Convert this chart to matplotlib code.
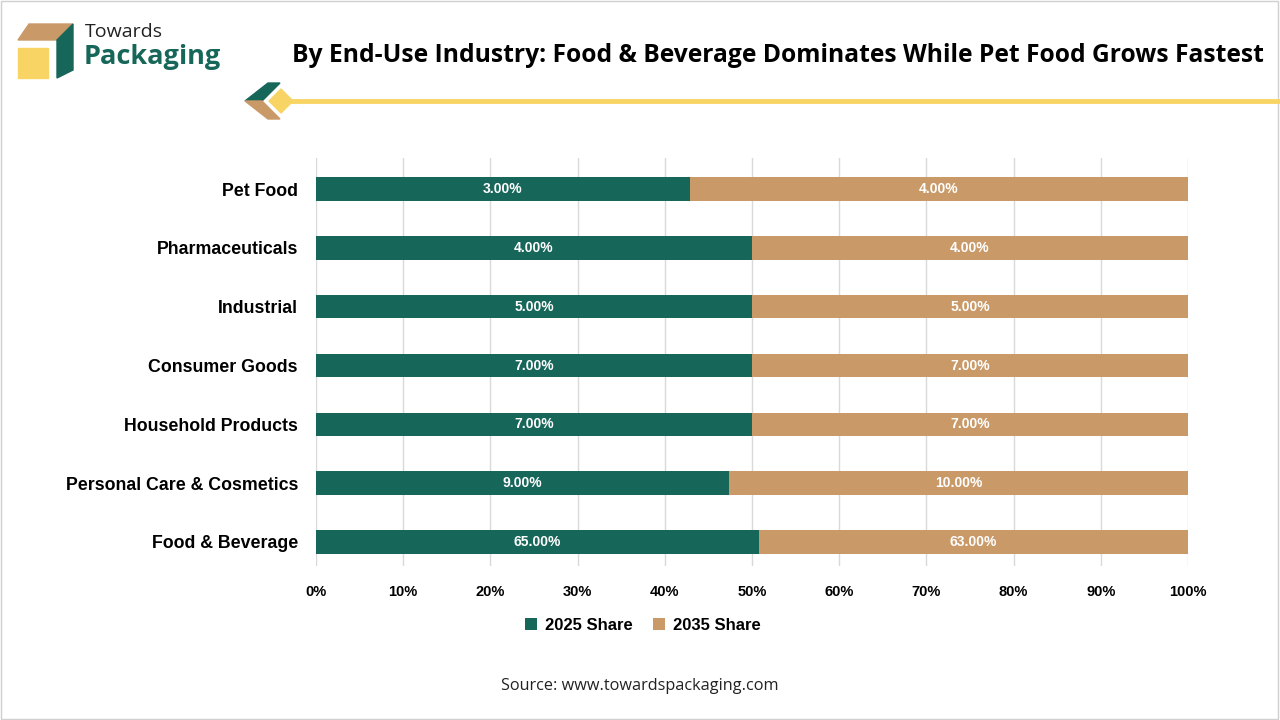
import matplotlib
matplotlib.use("Agg")
import matplotlib.pyplot as plt
from matplotlib.patches import Polygon, Rectangle
from matplotlib.lines import Line2D
import numpy as np

categories = ["Food & Beverage", "Personal Care & Cosmetics", "Household Products",
              "Consumer Goods", "Industrial", "Pharmaceuticals", "Pet Food"]
share_2025 = [65, 9, 7, 7, 5, 4, 3]
share_2035 = [63, 10, 7, 7, 5, 4, 4]
series_names = ["2025 Share", "2035 Share"]
x_ticks = [0, 10, 20, 30, 40, 50, 60, 70, 80, 90, 100]

GREEN = "#17665a"
TAN = "#c99a68"
YELLOW = "#f8d464"

plt.rcParams['font.family'] = ['Liberation Sans', 'DejaVu Sans']
TFONT = ['Open Sans', 'DejaVu Sans']

fig = plt.figure(figsize=(12.8, 7.2), dpi=100)
W, H = 1280, 720

def fx(x): return x / W
def fy(y): return 1 - y / H

# border
fig.patches.append(Rectangle((fx(1), fy(719)), fx(1277), 718 / H, transform=fig.transFigure,
                             fill=False, edgecolor="#d0d0d0", lw=1))

ax = fig.add_axes([fx(316), fy(566), fx(1188 - 316), (566 - 158) / H])

a = np.array(share_2025, float)
b = np.array(share_2035, float)
tot = a + b
pa = a / tot * 100
pb = b / tot * 100
y = np.arange(len(categories))
ax.barh(y, pa, height=0.40, color=GREEN, zorder=3, label=series_names[0])
ax.barh(y, pb, left=pa, height=0.40, color=TAN, zorder=3, label=series_names[1])
for i in range(len(categories)):
    ax.text(pa[i] / 2, y[i], f"{share_2025[i]:.2f}%", ha="center", va="center",
            color="white", fontsize=10, fontweight="bold", zorder=4)
    ax.text(pa[i] + pb[i] / 2, y[i], f"{share_2035[i]:.2f}%", ha="center", va="center",
            color="white", fontsize=10, fontweight="bold", zorder=4)

ax.set_xlim(0, 100)
ax.set_ylim(-0.41, 6.53)
ax.set_xticks(x_ticks)
ax.set_xticklabels([f"{t}%" for t in x_ticks], fontsize=10.5, fontweight="bold")
ax.set_yticks(y)
ax.set_yticklabels(categories, fontsize=12.8, fontweight="bold")
ax.tick_params(axis="x", length=0, pad=14)
ax.tick_params(axis="y", length=0, pad=13)
ax.grid(axis="x", color="#d9d9d9", lw=1, zorder=0)
for s in ax.spines.values():
    s.set_visible(False)

leg = ax.legend(loc="upper center", bbox_to_anchor=(0.375, -0.09), ncol=2, frameon=False,
                prop={"weight": "bold", "size": 12}, handlelength=0.7, handleheight=0.7,
                columnspacing=1.2, handletextpad=0.5)

# title
fig.text(fx(292), fy(55), "By End-Use Industry: Food & Beverage Dominates While Pet Food Grows Fastest",
         fontsize=17.7, fontweight="bold", ha="left", va="center", family=TFONT)

# yellow line
fig.lines.append(Line2D([fx(285), fx(1280)], [fy(101), fy(101)], transform=fig.transFigure,
                        color=YELLOW, lw=3.5))
# decoration chevron
fig.patches.append(Polygon([(fx(268), fy(83)), (fx(280), fy(83)), (fx(262), fy(101)), (fx(245), fy(101))],
                           closed=True, transform=fig.transFigure, color=GREEN))
fig.patches.append(Polygon([(fx(245), fy(101)), (fx(262), fy(101)), (fx(280), fy(119)), (fx(268), fy(119))],
                           closed=True, transform=fig.transFigure, color=TAN))
fig.patches.append(Polygon([(fx(281), fy(89)), (fx(293), fy(101)), (fx(281), fy(113)), (fx(269), fy(101))],
                           closed=True, transform=fig.transFigure, color=YELLOW))

# logo
fig.patches.append(Polygon([(fx(29), fy(24)), (fx(73), fy(24)), (fx(57), fy(40)), (fx(18), fy(40))],
                           closed=True, transform=fig.transFigure, color=TAN))
fig.patches.append(Rectangle((fx(18), fy(78)), fx(30), 30 / H, transform=fig.transFigure, color=YELLOW))
fig.patches.append(Polygon([(fx(57), fy(40)), (fx(73), fy(24)), (fx(73), fy(70)), (fx(57), fy(78))],
                           closed=True, transform=fig.transFigure, color=GREEN))
fig.text(fx(85), fy(32), "Towards", fontsize=14, color="#222222", ha="left", va="center", family=TFONT)
fig.text(fx(84), fy(57), "Packaging", fontsize=19.5, fontweight="bold", color=GREEN, ha="left",
         va="center", family=TFONT)

fig.text(fx(640), fy(686), "Source: www.towardspackaging.com", fontsize=11.7, ha="center", va="center",
         color="#222222", family=TFONT)

fig.savefig("out.png", dpi=100)
